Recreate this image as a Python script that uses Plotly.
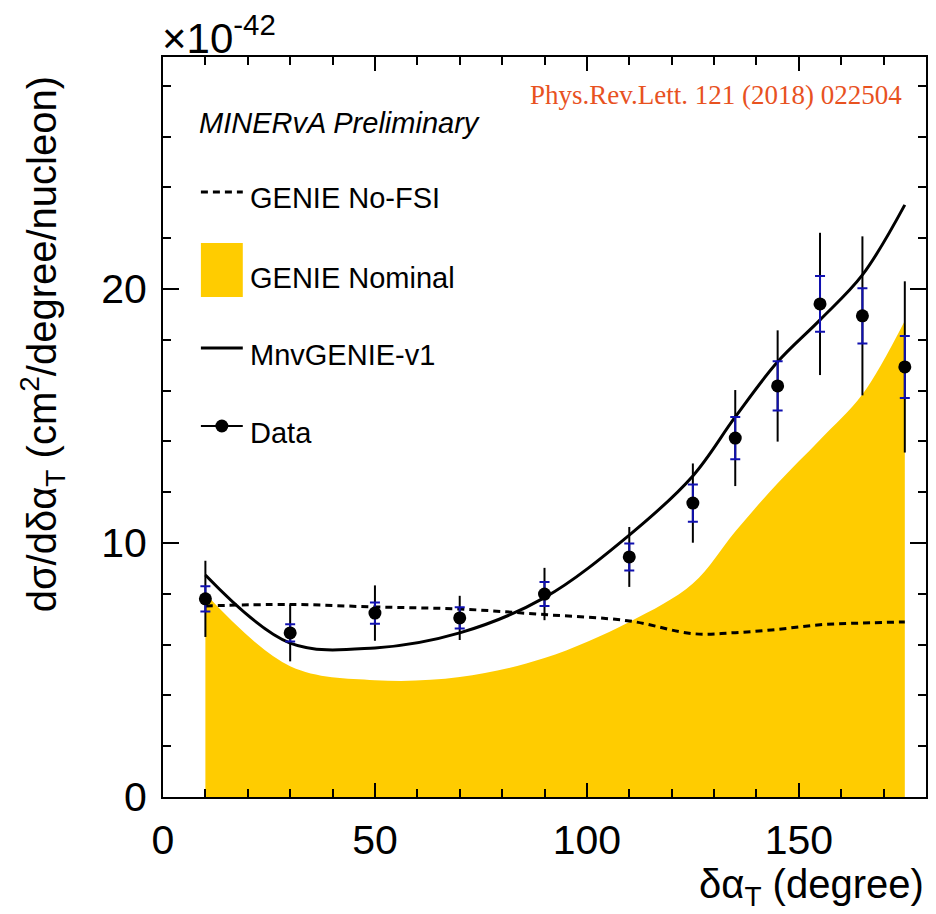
import plotly.graph_objects as go

# ---------------- data ----------------
bin_centers = [10, 30, 50, 70, 90, 110, 125, 135, 145, 155, 165, 175]
data_vals   = [7.80, 6.46, 7.24, 7.05, 7.99, 9.45, 11.57, 14.13, 16.18, 19.41, 18.94, 16.93]
data_tot_err = [1.50, 1.12, 1.09, 0.87, 1.03, 1.18, 1.56, 1.89, 2.19, 2.80, 3.13, 3.37]
data_stat_err = [0.50, 0.34, 0.42, 0.42, 0.47, 0.53, 0.73, 0.83, 0.97, 1.10, 1.09, 1.22]

genie_nominal = [8.00, 5.15, 4.60, 4.72, 5.47, 6.89, 8.40, 10.45, 12.35, 14.06, 15.85, 18.75]
genie_nofsi   = [7.52, 7.58, 7.48, 7.40, 7.18, 6.93, 6.43, 6.47, 6.60, 6.78, 6.85, 6.89]
mnvgenie_v1   = [8.74, 6.06, 5.87, 6.46, 7.85, 10.31, 12.64, 14.96, 17.13, 18.78, 20.55, 23.31]

x_range = [0, 180]
y_range = [0, 29.13]

# ---------------- layout geometry (pixels) ----------------
W, H = 936, 914
L, R, T, B = 163, 8, 57, 117
PW, PH = W - L - R, H - T - B


def px(x):
    return (x - L) / PW


def py(y):
    return (H - B - y) / PH


YELLOW = "#ffcc00"
BLUE = "#1010b0"
FONT = "Liberation Sans, Arial, Helvetica, sans-serif"

fig = go.Figure()

# GENIE Nominal (filled)
fig.add_trace(go.Scatter(
    x=bin_centers, y=genie_nominal, mode="lines", fill="tozeroy",
    fillcolor=YELLOW, line=dict(color=YELLOW, width=0, shape="spline"),
    showlegend=False, hoverinfo="skip"))

# GENIE No-FSI (dashed)
fig.add_trace(go.Scatter(
    x=bin_centers, y=genie_nofsi, mode="lines",
    line=dict(color="black", width=3, dash="7px,5px", shape="spline"),
    showlegend=False))

# MnvGENIE-v1 (solid)
fig.add_trace(go.Scatter(
    x=bin_centers, y=mnvgenie_v1, mode="lines",
    line=dict(color="black", width=3, shape="spline"),
    showlegend=False))

# Data: total errors (black, no caps)
fig.add_trace(go.Scatter(
    x=bin_centers, y=data_vals, mode="markers",
    marker=dict(size=1, color="rgba(0,0,0,0)"),
    error_y=dict(type="data", array=data_tot_err, color="black", thickness=2, width=0),
    showlegend=False))

# Data: stat errors (blue, caps)
fig.add_trace(go.Scatter(
    x=bin_centers, y=data_vals, mode="markers",
    marker=dict(size=1, color="rgba(0,0,0,0)"),
    error_y=dict(type="data", array=data_stat_err, color=BLUE, thickness=2, width=5),
    showlegend=False))

# Data points
fig.add_trace(go.Scatter(
    x=bin_centers, y=data_vals, mode="markers",
    marker=dict(size=13, color="black"),
    showlegend=False))

axis_common = dict(
    showgrid=False, zeroline=False, showline=True, linecolor="black", linewidth=2,
    mirror="allticks", ticks="inside", tickcolor="black", tickwidth=2,
    tickfont=dict(family=FONT, size=41, color="black"),
)

fig.update_xaxes(range=x_range, dtick=50, tick0=0, ticklen=14,
                 minor=dict(dtick=10, ticklen=8, ticks="inside", tickcolor="black", tickwidth=2),
                 ticklabelstandoff=6, **axis_common)
fig.update_yaxes(range=y_range, dtick=10, tick0=0, ticklen=16,
                 minor=dict(dtick=2, ticklen=8, ticks="inside", tickcolor="black", tickwidth=2),
                 ticklabelstandoff=6, **axis_common)

annotations = []
# multiplier
annotations.append(dict(xref="paper", yref="paper", x=px(160), y=py(64), xanchor="left", yanchor="bottom",
                        text="×10<sup>-42</sup>", showarrow=False,
                        font=dict(family=FONT, size=42, color="black")))
# y-axis title
annotations.append(dict(xref="paper", yref="paper", x=px(42), y=py(344), xanchor="center", yanchor="middle",
                        textangle=-90, showarrow=False,
                        text="dσ/dδα<sub>T</sub> (cm<sup>2</sup>/degree/nucleon)",
                        font=dict(family=FONT, size=40, color="black")))
# x-axis title
annotations.append(dict(xref="paper", yref="paper", x=1.0, y=py(860), xanchor="right", yanchor="top",
                        showarrow=False, text="δα<sub>T</sub> (degree)",
                        font=dict(family=FONT, size=40, color="black")))
# reference
annotations.append(dict(xref="paper", yref="paper", x=px(906), y=py(95), xanchor="right", yanchor="middle",
                        showarrow=False, text="Phys.Rev.Lett. 121 (2018) 022504",
                        font=dict(family="Liberation Serif, Times New Roman, serif", size=27, color="#e8521f")))
# preliminary
annotations.append(dict(xref="paper", yref="paper", x=px(197), y=py(123), xanchor="left", yanchor="middle",
                        showarrow=False, text="<i>MINERvA Preliminary</i>",
                        font=dict(family=FONT, size=29, color="black")))

# legend texts
legend_items = [("GENIE No-FSI", 198), ("GENIE Nominal", 278), ("MnvGENIE-v1", 355), ("Data", 433)]
for label, yc in legend_items:
    annotations.append(dict(xref="paper", yref="paper", x=px(248), y=py(yc), xanchor="left", yanchor="middle",
                            showarrow=False, text=label, font=dict(family=FONT, size=29, color="black")))

shapes = []
# No-FSI legend line
shapes.append(dict(type="line", xref="paper", yref="paper", x0=px(201), x1=px(243), y0=py(192), y1=py(192),
                   line=dict(color="black", width=3, dash="7px,5px")))
# Nominal box
shapes.append(dict(type="rect", xref="paper", yref="paper", x0=px(201), x1=px(243), y0=py(297), y1=py(243),
                   fillcolor=YELLOW, line=dict(width=0)))
# MnvGENIE line
shapes.append(dict(type="line", xref="paper", yref="paper", x0=px(201), x1=px(243), y0=py(348), y1=py(348),
                   line=dict(color="black", width=3)))
# Data line + dot
shapes.append(dict(type="line", xref="paper", yref="paper", x0=px(201), x1=px(243), y0=py(426), y1=py(426),
                   line=dict(color="black", width=2)))
shapes.append(dict(type="circle", xref="paper", yref="paper", x0=px(215.5), x1=px(228.5), y0=py(432.5), y1=py(419.5),
                   fillcolor="black", line=dict(width=0)))

fig.update_layout(
    width=W, height=H,
    margin=dict(l=L, r=R, t=T, b=B, pad=0),
    paper_bgcolor="white", plot_bgcolor="white",
    showlegend=False,
    annotations=annotations,
    shapes=shapes,
)

fig.write_html("out.html")
